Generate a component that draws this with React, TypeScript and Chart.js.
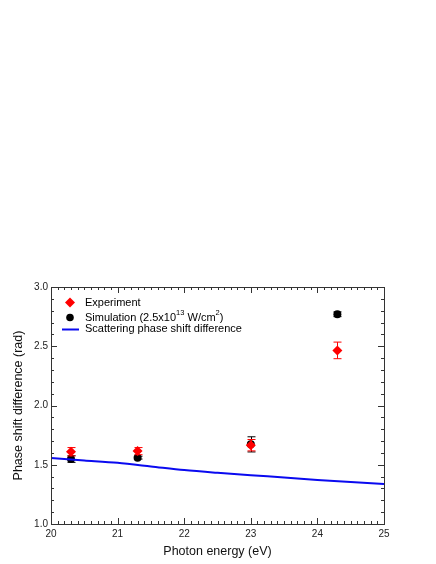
import React, { useEffect, useRef } from 'react';
import { Chart, registerables } from 'chart.js';

Chart.register(...registerables);

// Data
const energies = [20.3, 21.3, 23.0, 24.3];
const experiment = [1.61, 1.615, 1.665, 2.465];
const experimentErr = [0.035, 0.03, 0.048, 0.07];
const simulation = [1.548, 1.56, 1.672, 2.77];
const simulationErr = [0.028, 0.012, 0.064, 0.02];
const curveEnergy = [20, 20.5, 21, 21.5, 22, 22.5, 23, 23.5, 24, 24.5, 25];
const curvePhase = [1.556, 1.536, 1.516, 1.486, 1.455, 1.432, 1.412, 1.392, 1.372, 1.355, 1.338];
const xTickValues = [20, 21, 22, 23, 24, 25];
const yTickValues = [1.0, 1.5, 2.0, 2.5, 3.0];
const legendExperiment = 'Experiment';
const legendScattering = 'Scattering phase shift difference';
const xTitle = 'Photon energy (eV)';
const yTitle = 'Phase shift difference (rad)';

const FONT = '"Liberation Sans", Arial, Helvetica, sans-serif';
const RED = '#ff0000';
const BLUE = '#0a0af0';

const errorBarPlugin = {
  id: 'errorBars',
  beforeDatasetDraw(chart: any, args: any) {
    const ds = chart.data.datasets[args.index] as any;
    if (!ds.errors) return;
    const { ctx } = chart;
    const xs = chart.scales.x;
    const ys = chart.scales.y;
    ctx.save();
    ctx.strokeStyle = ds.errorColor;
    ctx.lineWidth = 1;
    ds.data.forEach((p: any, i: number) => {
      const e = ds.errors[i];
      const x = Math.round(xs.getPixelForValue(p.x)) + 0.5;
      const yt = ys.getPixelForValue(p.y + e);
      const yb = ys.getPixelForValue(p.y - e);
      ctx.beginPath();
      ctx.moveTo(x, yt);
      ctx.lineTo(x, yb);
      ctx.moveTo(x - 4, yt);
      ctx.lineTo(x + 4, yt);
      ctx.moveTo(x - 4, yb);
      ctx.lineTo(x + 4, yb);
      ctx.stroke();
    });
    ctx.restore();
  },
};

const framePlugin = {
  id: 'frameTicks',
  afterDatasetsDraw(chart: any) {
    const { ctx, chartArea } = chart;
    const { left, right, top, bottom } = chartArea;
    const xs = chart.scales.x;
    const ys = chart.scales.y;
    ctx.save();
    ctx.strokeStyle = '#333';
    ctx.lineWidth = 1;
    ctx.beginPath();
    // x ticks (major every 1, minor every 0.1)
    for (let k = 0; k <= 50; k++) {
      const v = xs.min + k * 0.1;
      const x = Math.round(xs.getPixelForValue(v)) + 0.5;
      const len = k % 10 === 0 ? 6 : 3;
      ctx.moveTo(x, bottom);
      ctx.lineTo(x, bottom - len);
      ctx.moveTo(x, top);
      ctx.lineTo(x, top + len);
    }
    // y ticks (major every 0.5, minor every 0.1)
    for (let k = 0; k <= 20; k++) {
      const v = ys.min + k * 0.1;
      const y = Math.round(ys.getPixelForValue(v)) + 0.5;
      const len = k % 5 === 0 ? 6 : 3;
      ctx.moveTo(left, y);
      ctx.lineTo(left + len, y);
      ctx.moveTo(right, y);
      ctx.lineTo(right - len, y);
    }
    ctx.stroke();
    ctx.strokeRect(Math.round(left) + 0.5, Math.round(top) + 0.5, Math.round(right - left), Math.round(bottom - top));
    ctx.restore();
  },
};

const legendPlugin = {
  id: 'customLegend',
  afterDraw(chart: any) {
    const { ctx, chartArea } = chart;
    const x0 = chartArea.left;
    const y0 = chartArea.top;
    const symX = x0 + 19;
    const textX = x0 + 34;
    ctx.save();
    ctx.textBaseline = 'middle';
    ctx.fillStyle = '#000';
    // Experiment
    const y1 = y0 + 15.5;
    ctx.fillStyle = RED;
    ctx.beginPath();
    ctx.moveTo(symX, y1 - 5);
    ctx.lineTo(symX + 5, y1);
    ctx.lineTo(symX, y1 + 5);
    ctx.lineTo(symX - 5, y1);
    ctx.closePath();
    ctx.fill();
    ctx.fillStyle = '#000';
    ctx.font = `11px ${FONT}`;
    ctx.fillText(legendExperiment, textX, y1);
    // Simulation
    const y2 = y0 + 30.5;
    ctx.beginPath();
    ctx.arc(symX, y2, 3.8, 0, Math.PI * 2);
    ctx.fill();
    const parts: [string, boolean][] = [
      ['Simulation (2.5x10', false],
      ['13', true],
      [' W/cm', false],
      ['2', true],
      [')', false],
    ];
    let tx = textX;
    parts.forEach(([s, sup]) => {
      ctx.font = sup ? `7.5px ${FONT}` : `11px ${FONT}`;
      ctx.fillText(s, tx, sup ? y2 - 5 : y2);
      tx += ctx.measureText(s).width;
    });
    // Scattering line
    const y3 = y0 + 42.5;
    ctx.strokeStyle = BLUE;
    ctx.lineWidth = 2;
    ctx.beginPath();
    ctx.moveTo(x0 + 11, y3);
    ctx.lineTo(x0 + 28, y3);
    ctx.stroke();
    ctx.font = `11px ${FONT}`;
    ctx.fillText(legendScattering, textX, y3 - 0.5);
    ctx.restore();
  },
};

export default function App() {
  const ref = useRef<HTMLCanvasElement | null>(null);
  useEffect(() => {
    if (!ref.current) return;
    Chart.defaults.font.family = FONT;
    const chart = new Chart(ref.current, {
      type: 'scatter',
      data: {
        datasets: [
          {
            type: 'line',
            label: legendScattering,
            data: curveEnergy.map((x, i) => ({ x, y: curvePhase[i] })),
            borderColor: BLUE,
            borderWidth: 2,
            pointRadius: 0,
            tension: 0.3,
            fill: false,
          } as any,
          {
            label: legendExperiment,
            data: energies.map((x, i) => ({ x, y: experiment[i] })),
            pointStyle: 'rectRot',
            pointRadius: 5,
            backgroundColor: RED,
            borderColor: RED,
            borderWidth: 0,
            errors: experimentErr,
            errorColor: RED,
          } as any,
          {
            label: 'Simulation',
            data: energies.map((x, i) => ({ x, y: simulation[i] })),
            pointStyle: 'circle',
            pointRadius: 4,
            backgroundColor: '#000',
            borderColor: '#000',
            borderWidth: 0,
            errors: simulationErr,
            errorColor: '#000',
          } as any,
        ],
      },
      options: {
        animation: false,
        responsive: false,
        layout: { padding: { left: 0, right: 52, top: 287, bottom: 0 } },
        plugins: { legend: { display: false }, tooltip: { enabled: false } },
        scales: {
          x: {
            type: 'linear',
            min: 20,
            max: 25,
            afterBuildTicks: (s: any) => { s.ticks = xTickValues.map((v) => ({ value: v })); },
            afterFit: (s: any) => { s.height = 40; },
            grid: { display: false, drawTicks: false },
            border: { display: false },
            ticks: { font: { size: 10 }, color: '#222', padding: 4, maxRotation: 0 },
            title: {
              display: true,
              text: xTitle,
              font: { size: 12.5 },
              color: '#111',
              padding: { top: 0, bottom: 5 },
            },
          },
          y: {
            type: 'linear',
            min: 1,
            max: 3,
            afterBuildTicks: (s: any) => { s.ticks = yTickValues.map((v) => ({ value: v })); },
            afterFit: (s: any) => { s.width = 51; },
            grid: { display: false, drawTicks: false },
            border: { display: false },
            ticks: { font: { size: 10 }, color: '#222', padding: 3, callback: (v: any) => Number(v).toFixed(1) },
            title: {
              display: true,
              text: yTitle,
              font: { size: 12.5 },
              color: '#111',
              padding: { top: 11, bottom: 0 },
            },
          },
        },
      },
      plugins: [errorBarPlugin, framePlugin, legendPlugin],
    });
    return () => chart.destroy();
  }, []);
  return (
    <div style={{ position: 'fixed', left: 0, top: 0, width: 436, height: 564, background: '#fff' }}>
      <canvas ref={ref} width={436} height={564} />
    </div>
  );
}
